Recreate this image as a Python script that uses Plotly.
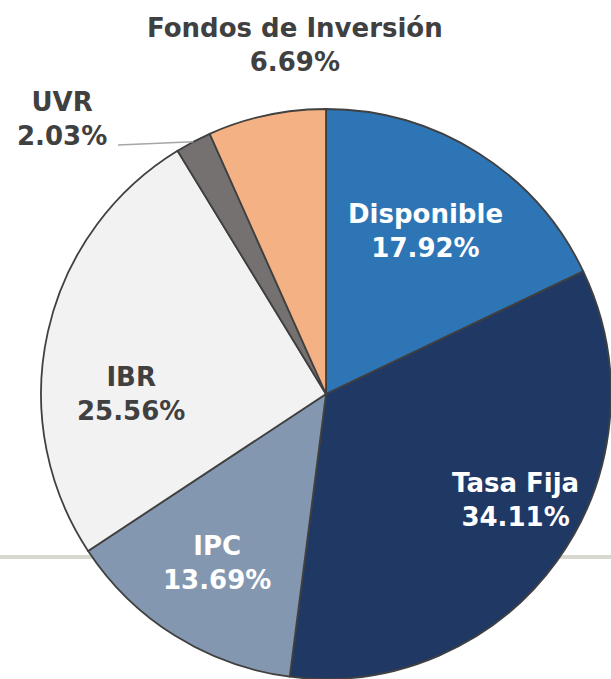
import math
import plotly.graph_objects as go

# ---- data ----
categories = ["Disponible", "Tasa Fija", "IPC", "IBR", "UVR", "Fondos de Inversión"]
values = [17.92, 34.11, 13.69, 25.56, 2.03, 6.69]

# ---- style ----
W, H = 611, 679
colors = ["#2E75B6", "#203864", "#8497B0", "#F2F2F2", "#767171", "#F4B183"]
text_colors = ["white", "white", "white", "#404040", "#404040", "#404040"]
# label block centres in pixels (x, y)
label_pos = [(425, 231), (515, 500), (217, 563), (131, 394), (62, 119), (295, 45)]
FONT = "DejaVu Sans"
FSIZE = 26

cx, cy, r = 326, 394, 285

def px(x):
    return x / W

def py(y):
    return 1 - y / H

fig = go.Figure()
fig.add_trace(go.Pie(
    labels=categories,
    values=values,
    sort=False,
    direction="clockwise",
    rotation=0,
    marker=dict(colors=colors, line=dict(color="#404040", width=1.8)),
    textinfo="none",
    hoverinfo="label+percent",
    domain=dict(x=[px(cx - r), px(cx + r)], y=[py(cy + r), py(cy - r)]),
    showlegend=False,
))

total = sum(values)
for cat, val, col, (lx, ly) in zip(categories, values, text_colors, label_pos):
    fig.add_annotation(
        x=px(lx), y=py(ly), xref="paper", yref="paper",
        text=f"<b>{cat}<br>{val / total * 100:.2f}%</b>",
        showarrow=False, xanchor="center", yanchor="middle",
        font=dict(family=FONT, size=FSIZE, color=col),
    )

# leader line for UVR, to the middle of its arc
idx = categories.index("UVR")
start = sum(values[:idx]) / total
mid = start + values[idx] / total / 2
ang = mid * 2 * math.pi
ex = cx + r * math.sin(ang)
ey = cy - r * math.cos(ang)
fig.add_shape(type="line", xref="paper", yref="paper",
              x0=px(118), y0=py(145), x1=px(ex), y1=py(ey),
              line=dict(color="#A6A6A6", width=1.5))

# background horizontal rule
fig.add_shape(type="line", xref="paper", yref="paper", layer="below",
              x0=0, x1=1, y0=py(557), y1=py(557),
              line=dict(color="#D8D8D0", width=4))

fig.update_layout(
    width=W, height=H,
    margin=dict(l=0, r=0, t=0, b=0),
    paper_bgcolor="white", plot_bgcolor="white",
)

fig.write_html("out.html", config={"displayModeBar": False},
               post_script="document.body.style.margin='0px';")
